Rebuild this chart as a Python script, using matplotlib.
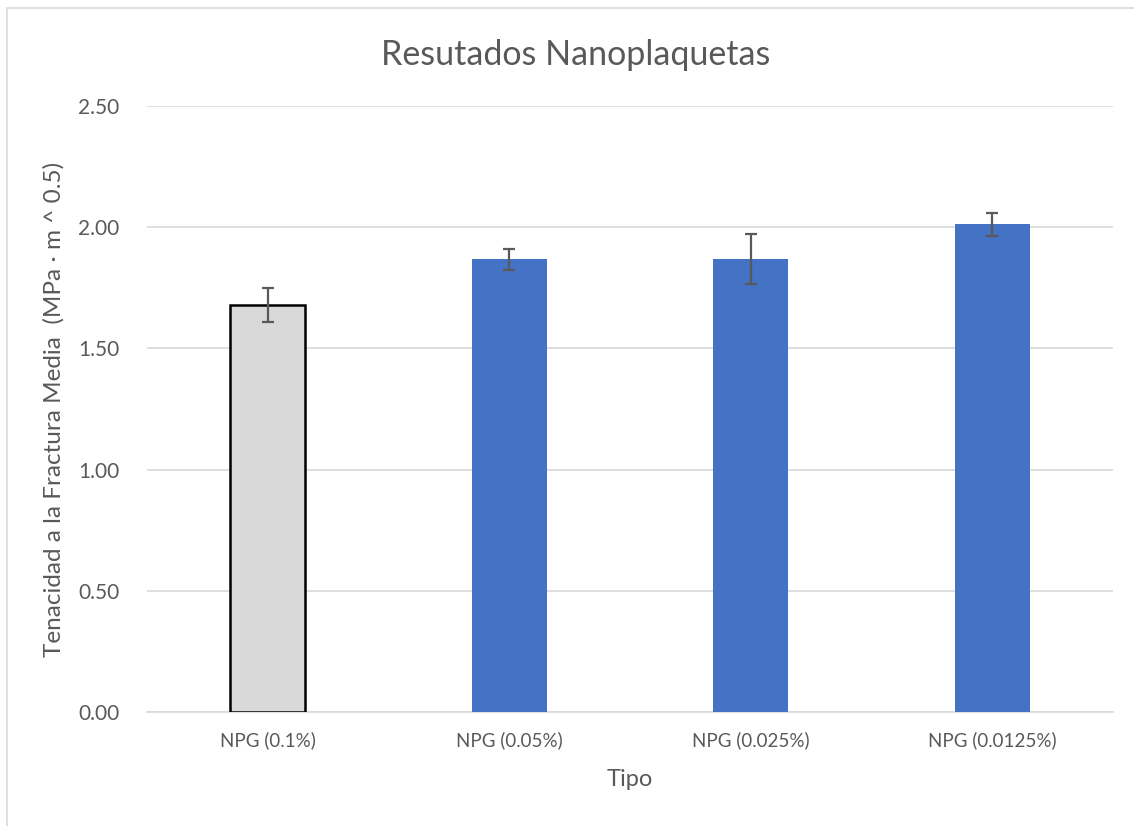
import matplotlib.pyplot as plt
import numpy as np
from matplotlib.patches import Rectangle

plt.rcParams['font.family'] = ['Lato', 'DejaVu Sans']

tipos = ["NPG (0.1%)", "NPG (0.05%)", "NPG (0.025%)", "NPG (0.0125%)"]
media = [1.68, 1.867, 1.869, 2.012]
error = [0.07, 0.043, 0.105, 0.048]
colores = ["#D9D9D9", "#4472C4", "#4472C4", "#4472C4"]
bordes = ["black", "#4472C4", "#4472C4", "#4472C4"]
yticks = [0.0, 0.5, 1.0, 1.5, 2.0, 2.5]

texto = "#595959"

fig = plt.figure(figsize=(11.34, 8.26), dpi=100)
fig.patches.append(Rectangle((7/1134, -0.01), 1.1, 1 - 8/826 + 0.01, transform=fig.transFigure,
                             fill=False, edgecolor="#D9D9D9", linewidth=1.2))
ax = fig.add_axes([147/1134, 1 - 712/826, 966/1134, 606/826])

x = np.arange(len(tipos))
ax.bar(x, media, width=0.31, color=colores, edgecolor=bordes, linewidth=[1.8, 0, 0, 0], zorder=3)
ax.errorbar(x, media, yerr=error, fmt="none", ecolor=texto, elinewidth=1.6, capsize=4.5, capthick=1.6, zorder=4)

ax.set_xlim(-0.5, 3.5)
ax.set_ylim(0, 2.5)
ax.set_yticks(yticks)
ax.set_yticklabels([f"{v:.2f}" for v in yticks])
ax.set_xticks(x)
ax.set_xticklabels(tipos)
ax.grid(axis="y", color="#D9D9D9", linewidth=1.2, zorder=0)
ax.set_axisbelow(True)
for s in ["top", "right", "left"]:
    ax.spines[s].set_visible(False)
ax.spines["bottom"].set_color("#D9D9D9")
ax.spines["bottom"].set_linewidth(1.2)
ax.tick_params(axis="both", length=0, colors=texto)
ax.tick_params(axis="y", pad=20, labelsize=15)
ax.tick_params(axis="x", pad=14, labelsize=13.5)

fig.text(576/1134, 1 - 55/826, "Resutados Nanoplaquetas", fontsize=24.5, color=texto,
         ha="center", va="center")
ax.set_xlabel("Tipo", fontsize=17, color=texto, labelpad=14)
ax.set_ylabel("Tenacidad a la Fractura Media  (MPa · m ^ 0.5)", fontsize=17.5, color=texto, labelpad=10)

plt.savefig("out.png", dpi=100)
